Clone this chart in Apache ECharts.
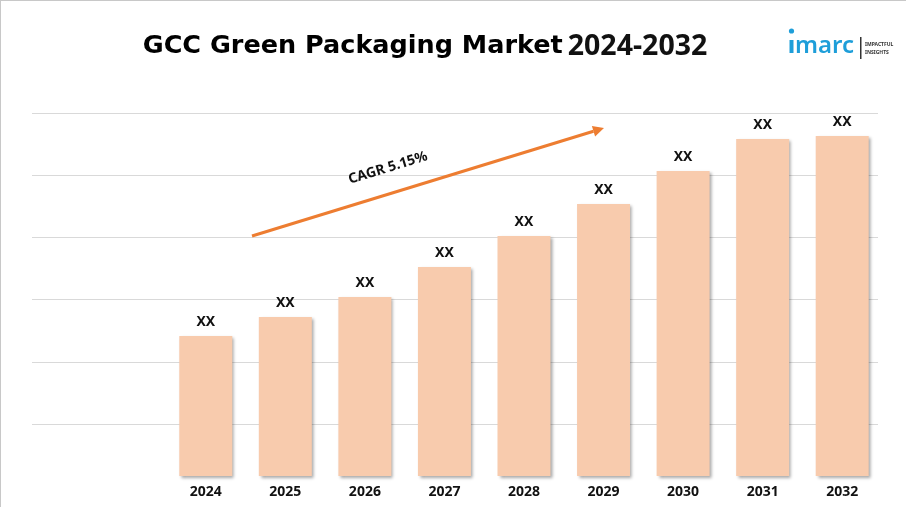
<!DOCTYPE html>
<html>
<head>
<meta charset="utf-8">
<script src="https://cdn.jsdelivr.net/npm/echarts@6/dist/echarts.min.js"></script>
<style>
html,body{margin:0;padding:0;background:#fff;}
#c{width:906px;height:507px;}
</style>
</head>
<body>
<div id="c"></div>
<script>
const years = ['2024','2025','2026','2027','2028','2029','2030','2031','2032'];
const values = [140,159,179,209,240,272,305,337,340];
const barLabels = ['XX','XX','XX','XX','XX','XX','XX','XX','XX'];
const gridTicks = [0,1,2,3,4,5];
const titleMain = 'GCC Green Packaging Market';
const titleYears = '2024-2032';
const cagrText = 'CAGR 5.15%';

const chart = echarts.init(document.getElementById('c'), null, {renderer:'canvas'});
const FONT = '"Noto Sans", sans-serif';
const TFONT = '"DejaVu Sans", sans-serif';
const ang = 17 * Math.PI / 180;

// arrow geometry (annotation)
const tip = [604,128], start = [252,236];
const dx = tip[0]-start[0], dy = tip[1]-start[1];
const L = Math.sqrt(dx*dx+dy*dy);
const ux = dx/L, uy = dy/L, nx = -uy, ny = ux;
const hl = 11, hw = 5.5;
const bx = tip[0]-hl*ux, by = tip[1]-hl*uy;

chart.setOption({
  backgroundColor:'#fff',
  animation:false,
  title:{
    text:'{a|'+titleMain+'} {b|'+titleYears+'}',
    left:420, top:27, textAlign:'center',
    textStyle:{rich:{
      a:{fontFamily:TFONT,fontWeight:'bold',fontSize:25.5,color:'#000'},
      b:{fontFamily:FONT,fontWeight:'bold',fontSize:28.5,color:'#111'}
    }}
  },
  grid:[
    {left:32,right:28,top:113,height:311},
    {left:166,right:24,top:113,bottom:31}
  ],
  xAxis:[
    {gridIndex:0,type:'category',data:years,show:false},
    {gridIndex:1,type:'category',data:years,
      axisLine:{show:false},axisTick:{show:false},
      axisLabel:{margin:9,color:'#111',fontFamily:FONT,fontWeight:'bold',fontSize:14}}
  ],
  yAxis:[
    {gridIndex:0,type:'value',min:gridTicks[0],max:gridTicks[gridTicks.length-1],interval:1,
      axisLabel:{show:false},axisLine:{show:false},axisTick:{show:false},
      splitLine:{lineStyle:{color:'#D9D9D9',width:1}}},
    {gridIndex:1,type:'value',min:0,max:363,show:false,splitLine:{show:false}}
  ],
  series:[{
    type:'bar',xAxisIndex:1,yAxisIndex:1,data:values,barWidth:53,
    itemStyle:{color:'#F8CBAD',shadowColor:'rgba(0,0,0,0.35)',shadowBlur:3,shadowOffsetX:2,shadowOffsetY:2},
    label:{show:true,position:'top',distance:7,formatter:p=>barLabels[p.dataIndex],
      color:'#111',fontFamily:FONT,fontWeight:'bold',fontSize:14}
  }],
  graphic:[
    {type:'line',shape:{x1:0,y1:0,x2:0,y2:507},style:{stroke:'#C8C8C8',lineWidth:2},silent:true},
    {type:'line',shape:{x1:0,y1:0,x2:906,y2:0},style:{stroke:'#C8C8C8',lineWidth:2},silent:true},
    {type:'line',shape:{x1:start[0],y1:start[1],x2:bx,y2:by},style:{stroke:'#ED7D31',lineWidth:3},z:10},
    {type:'polygon',shape:{points:[[tip[0],tip[1]],[bx+hw*nx,by+hw*ny],[bx-hw*nx,by-hw*ny]]},style:{fill:'#ED7D31'},z:10},
    {type:'text',x:388,y:168,rotation:ang,style:{text:cagrText,fill:'#111',font:'bold 14px '+FONT,align:'center',verticalAlign:'middle'},z:10},
    // logo
    {type:'circle',shape:{cx:791.5,cy:31,r:2.6},style:{fill:'#1E9ED9'}},
    {type:'rect',shape:{x:789.5,y:40,width:4,height:13},style:{fill:'#1E9ED9'}},
    {type:'text',x:795,y:58,style:{text:'marc',fill:'#1E9ED9',font:'600 24px '+FONT,verticalAlign:'bottom'}},
    {type:'rect',shape:{x:860,y:37,width:1.5,height:22},style:{fill:'#333'}},
    {type:'text',x:865,y:45,style:{text:'IMPACTFUL',fill:'#333',font:'bold 5px '+FONT,verticalAlign:'middle'}},
    {type:'text',x:865,y:53,style:{text:'INSIGHTS',fill:'#333',font:'bold 5px '+FONT,verticalAlign:'middle'}}
  ]
});
</script>
</body>
</html>
